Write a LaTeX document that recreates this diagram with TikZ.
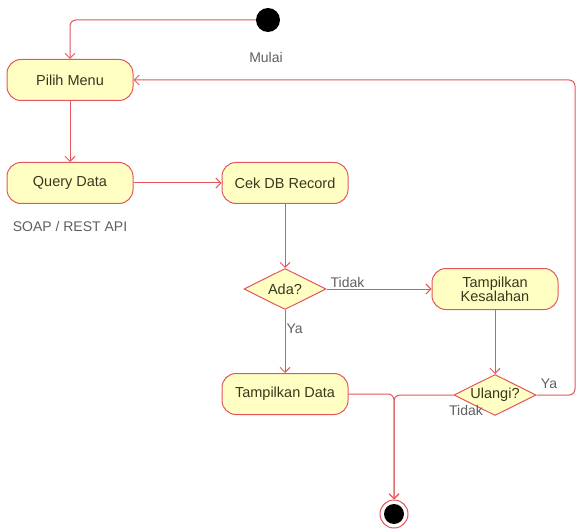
\documentclass[tikz,border=0pt]{standalone}
\usepackage{fontspec}
\setmainfont{Liberation Sans}
\usetikzlibrary{shapes.geometric,arrows.meta}
\definecolor{umlred}{RGB}{228,86,92}
\definecolor{umlfill}{RGB}{255,255,196}
\definecolor{umltext}{RGB}{55,55,30}
\definecolor{labgray}{RGB}{95,95,95}

\begin{document}
\begin{tikzpicture}[x=1pt,y=-1pt,
	action_node/.style={rectangle,rounded corners=14pt,draw=umlred,fill=umlfill,line width=1pt,minimum width=126pt,minimum height=41pt,inner sep=2pt,text=umltext,font=\fontsize{14.5}{16}\selectfont,align=center},
	decision_node/.style={diamond,aspect=2,draw=umlred,fill=umlfill,line width=1pt,minimum width=82pt,minimum height=41pt,inner sep=0pt,text=umltext,font=\fontsize{14.5}{16}\selectfont},
	lab/.style={text=labgray,font=\fontsize{14}{15}\selectfont,inner sep=1pt},
	flow/.style={draw=umlred,line width=1pt,-{Straight Barb[length=5pt,width=10pt]}}]
	\useasboundingbox (0,0) rectangle (576,532);
	\node[circle,fill=black,minimum size=24pt,inner sep=0pt] (start) at (268,20) {};
	\node[lab] (mulai) at (266,57) {Mulai};
	\node[action_node] (pilih) at (70,80) {Pilih Menu};
	\node[action_node] (query) at (70,183) {Query Data};
	\node[lab] (api) at (70,226) {SOAP / REST API};
	\node[action_node] (cekdb) at (285,183) {Cek DB Record};
	\node[decision_node] (ada) at (285,289) {Ada?};
	\node[action_node] (salah) at (495,289) {Tampilkan\\[-2pt]Kesalahan};
	\node[action_node] (tdata) at (285,394) {Tampilkan Data};
	\node[decision_node] (ulangi) at (495,395) {Ulangi?};
	\node[circle,draw=umlred,line width=1pt,fill=white,minimum size=28pt,inner sep=0pt] (stop) at (394,514) {};
	\node[circle,fill=black,minimum size=20pt,inner sep=0pt] (stopdot) at (stop) {};
	\coordinate (loopright) at (575,395);
	\draw[flow,rounded corners=6pt] (start.west) -| (pilih.north);
	\draw[flow] (pilih) -- (query);
	\draw[flow] (query) -- (cekdb);
	\draw[flow] (cekdb) -- (ada);
	\draw[flow] (ada) -- (salah) node[lab,pos=0.2,above] {Tidak};
	\draw[flow] (ada) -- (tdata) node[lab,pos=0.3,right] {Ya};
	\draw[flow] (salah) -- (ulangi);
	\draw[flow,rounded corners=6pt] (ulangi.east) -- (loopright) |- (pilih.east);
	\node[lab] (ya2) at (549,384) {Ya};
	\node[lab] (tidak2) at (466,410) {Tidak};
	\draw[flow,rounded corners=6pt] (tdata.east) -| (stop.north);
	\draw[flow,rounded corners=6pt] (ulangi.west) -| (stop.north);
\end{tikzpicture}
\end{document}
